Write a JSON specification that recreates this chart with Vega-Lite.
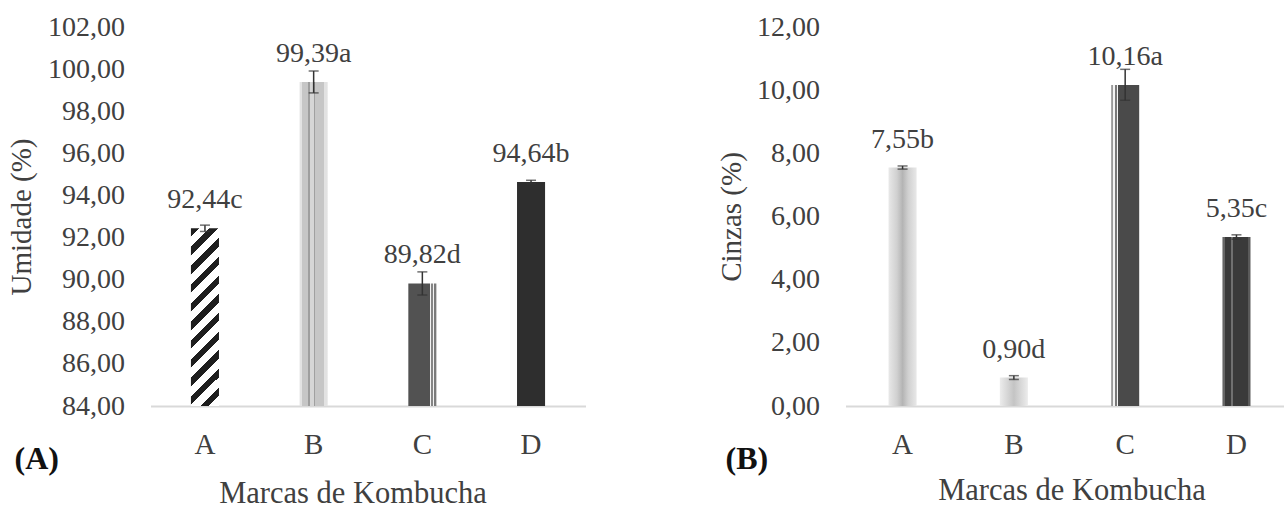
{
  "$schema": "https://vega.github.io/schema/vega-lite/v6.json",
  "background": "white",
  "padding": {"left": 7.5, "top": 13, "right": 0, "bottom": 0},
  "bounds": "flush",
  "spacing": 260,
  "config": {
    "view": {"stroke": null},
    "font": "Liberation Serif",
    "axis": {"labelFont": "Liberation Serif", "titleFont": "Liberation Serif", "grid": false, "ticks": false, "tickSize": 0, "labelColor": "#404040", "titleColor": "#404040", "titleFontWeight": "normal"},
    "title": {"font": "Liberation Serif"}
  },
  "hconcat": [
    {
      "width": 435,
      "height": 379,
      "title": {"text": "(A)", "orient": "bottom", "anchor": "start", "frame": "group", "align": "left", "baseline": "top", "fontSize": 32, "fontWeight": "bold", "color": "#111111", "offset": 0, "dx": -136, "dy": -65},
      "data": {"values": [
        {"marca": "A", "valor": 92.44, "lo": 92.29, "hi": 92.59, "rotulo": "92,44c"},
        {"marca": "B", "valor": 99.39, "lo": 98.87, "hi": 99.91, "rotulo": "99,39a"},
        {"marca": "C", "valor": 89.82, "lo": 89.27, "hi": 90.37, "rotulo": "89,82d"},
        {"marca": "D", "valor": 94.64, "lo": 94.56, "hi": 94.72, "rotulo": "94,64b"}
      ]},
      "encoding": {
        "x": {"field": "marca", "type": "nominal", "sort": null,
          "scale": {"paddingInner": 0.742, "paddingOuter": 0.372, "align": 0.5},
          "axis": {"title": "Marcas de Kombucha", "titleX": 202, "titleY": 87, "titleAlign": "center", "titleBaseline": "middle", "titleFontSize": 30.5, "labelAngle": 0, "labelFontSize": 29, "labelPadding": 38, "labelBaseline": "middle", "domainColor": "#d9d9d9", "domainWidth": 2}}
      },
      "layer": [
        {
          "mark": {"type": "bar"},
          "encoding": {
            "y": {"field": "valor", "type": "quantitative", "title": "Umidade (%)", "scale": {"domain": [84, 102], "zero": false, "nice": false},
              "axis": {"title": "Umidade (%)", "titleX": -129, "titleY": 189.5, "titleAngle": -90, "titleAlign": "center", "titleBaseline": "middle", "titleFontSize": 29, "labelFontSize": 28, "labelPadding": 26, "domain": false, "values": [84, 86, 88, 90, 92, 94, 96, 98, 100, 102], "labelExpr": "replace(format(datum.value, '.2f'), '.', ',')"}},
            "y2": {"datum": 84},
            "fill": {
              "condition": [
                {"test": "datum.marca === 'A'", "value": {"gradient": "linear", "x1": 0, "y1": 0, "x2": 0.178, "y2": 1.1296, "stops": [
                  {"offset": 0, "color": "#1e1e1e"}, {"offset": 0.0409, "color": "#1e1e1e"}, {"offset": 0.0409, "color": "#ffffff"}, {"offset": 0.0909, "color": "#ffffff"},
                  {"offset": 0.0909, "color": "#1e1e1e"}, {"offset": 0.1318, "color": "#1e1e1e"}, {"offset": 0.1318, "color": "#ffffff"}, {"offset": 0.1818, "color": "#ffffff"},
                  {"offset": 0.1818, "color": "#1e1e1e"}, {"offset": 0.2227, "color": "#1e1e1e"}, {"offset": 0.2227, "color": "#ffffff"}, {"offset": 0.2727, "color": "#ffffff"},
                  {"offset": 0.2727, "color": "#1e1e1e"}, {"offset": 0.3136, "color": "#1e1e1e"}, {"offset": 0.3136, "color": "#ffffff"}, {"offset": 0.3636, "color": "#ffffff"},
                  {"offset": 0.3636, "color": "#1e1e1e"}, {"offset": 0.4045, "color": "#1e1e1e"}, {"offset": 0.4045, "color": "#ffffff"}, {"offset": 0.4545, "color": "#ffffff"},
                  {"offset": 0.4545, "color": "#1e1e1e"}, {"offset": 0.4955, "color": "#1e1e1e"}, {"offset": 0.4955, "color": "#ffffff"}, {"offset": 0.5455, "color": "#ffffff"},
                  {"offset": 0.5455, "color": "#1e1e1e"}, {"offset": 0.5864, "color": "#1e1e1e"}, {"offset": 0.5864, "color": "#ffffff"}, {"offset": 0.6364, "color": "#ffffff"},
                  {"offset": 0.6364, "color": "#1e1e1e"}, {"offset": 0.6773, "color": "#1e1e1e"}, {"offset": 0.6773, "color": "#ffffff"}, {"offset": 0.7273, "color": "#ffffff"},
                  {"offset": 0.7273, "color": "#1e1e1e"}, {"offset": 0.7682, "color": "#1e1e1e"}, {"offset": 0.7682, "color": "#ffffff"}, {"offset": 0.8182, "color": "#ffffff"},
                  {"offset": 0.8182, "color": "#1e1e1e"}, {"offset": 0.8591, "color": "#1e1e1e"}, {"offset": 0.8591, "color": "#ffffff"}, {"offset": 0.9091, "color": "#ffffff"},
                  {"offset": 0.9091, "color": "#1e1e1e"}, {"offset": 0.95, "color": "#1e1e1e"}, {"offset": 0.95, "color": "#ffffff"}, {"offset": 1, "color": "#ffffff"}
                ]}},
                {"test": "datum.marca === 'B'", "value": {"gradient": "linear", "x1": 0, "y1": 0, "x2": 1, "y2": 0, "stops": [
                  {"offset": 0, "color": "#e2e2e2"}, {"offset": 0.08, "color": "#e2e2e2"}, {"offset": 0.08, "color": "#c6c6c6"}, {"offset": 0.3, "color": "#c6c6c6"},
                  {"offset": 0.3, "color": "#9e9e9e"}, {"offset": 0.36, "color": "#9e9e9e"}, {"offset": 0.36, "color": "#d6d6d6"}, {"offset": 0.5, "color": "#d6d6d6"},
                  {"offset": 0.5, "color": "#a0a0a0"}, {"offset": 0.56, "color": "#a0a0a0"}, {"offset": 0.56, "color": "#c6c6c6"}, {"offset": 0.86, "color": "#c6c6c6"},
                  {"offset": 0.86, "color": "#e2e2e2"}, {"offset": 1, "color": "#e2e2e2"}
                ]}},
                {"test": "datum.marca === 'C'", "value": {"gradient": "linear", "x1": 0, "y1": 0, "x2": 1, "y2": 0, "stops": [
                  {"offset": 0, "color": "#525252"}, {"offset": 0.76, "color": "#525252"}, {"offset": 0.76, "color": "#f2f2f2"}, {"offset": 0.82, "color": "#f2f2f2"},
                  {"offset": 0.82, "color": "#858585"}, {"offset": 0.88, "color": "#858585"}, {"offset": 0.88, "color": "#f2f2f2"}, {"offset": 0.93, "color": "#f2f2f2"},
                  {"offset": 0.93, "color": "#7a7a7a"}, {"offset": 1, "color": "#7a7a7a"}
                ]}}
              ],
              "value": "#2e2e2e"
            }
          }
        },
        {
          "mark": {"type": "errorbar", "color": "#333333", "thickness": 1.5, "ticks": {"size": 10, "thickness": 1.5}},
          "encoding": {
            "y": {"field": "lo", "type": "quantitative", "title": "Umidade (%)", "scale": {"domain": [84, 102], "zero": false, "nice": false}},
            "y2": {"field": "hi"}
          }
        },
        {
          "mark": {"type": "text", "dy": -28, "baseline": "middle", "align": "center", "fontSize": 28, "color": "#404040", "font": "Liberation Serif"},
          "encoding": {
            "y": {"field": "valor", "type": "quantitative", "title": "Umidade (%)", "scale": {"domain": [84, 102], "zero": false, "nice": false}},
            "text": {"field": "rotulo"}
          }
        }
      ]
    },
    {
      "width": 438,
      "height": 379,
      "title": {"text": "(B)", "orient": "bottom", "anchor": "start", "frame": "group", "align": "left", "baseline": "top", "fontSize": 32, "fontWeight": "bold", "color": "#111111", "offset": 0, "dx": -120, "dy": -62},
      "data": {"values": [
        {"marca": "A", "valor": 7.55, "lo": 7.5, "hi": 7.6, "rotulo": "7,55b"},
        {"marca": "B", "valor": 0.90, "lo": 0.84, "hi": 0.96, "rotulo": "0,90d"},
        {"marca": "C", "valor": 10.16, "lo": 9.68, "hi": 10.66, "rotulo": "10,16a"},
        {"marca": "D", "valor": 5.35, "lo": 5.28, "hi": 5.42, "rotulo": "5,35c"}
      ]},
      "encoding": {
        "x": {"field": "marca", "type": "nominal", "sort": null,
          "scale": {"paddingInner": 0.748, "paddingOuter": 0.3417, "align": 0.566},
          "axis": {"title": "Marcas de Kombucha", "titleX": 226, "titleY": 84, "titleAlign": "center", "titleBaseline": "middle", "titleFontSize": 30.5, "labelAngle": 0, "labelFontSize": 29, "labelPadding": 38, "labelBaseline": "middle", "domainColor": "#d9d9d9", "domainWidth": 2}}
      },
      "layer": [
        {
          "mark": {"type": "bar"},
          "encoding": {
            "y": {"field": "valor", "type": "quantitative", "title": "Cinzas (%)", "scale": {"domain": [0, 12], "nice": false},
              "axis": {"title": "Cinzas (%)", "titleX": -114, "titleY": 189.5, "titleAngle": -90, "titleAlign": "center", "titleBaseline": "middle", "titleFontSize": 29, "labelFontSize": 28, "labelPadding": 26, "domain": false, "values": [0, 2, 4, 6, 8, 10, 12], "labelExpr": "replace(format(datum.value, '.2f'), '.', ',')"}},
            "y2": {"datum": 0},
            "fill": {
              "condition": [
                {"test": "datum.marca === 'A'", "value": {"gradient": "linear", "x1": 0, "y1": 0, "x2": 1, "y2": 0, "stops": [
                  {"offset": 0, "color": "#e8e8e8"}, {"offset": 0.3, "color": "#d0d0d0"}, {"offset": 0.5, "color": "#b4b4b4"}, {"offset": 0.7, "color": "#d0d0d0"}, {"offset": 1, "color": "#e8e8e8"}
                ]}},
                {"test": "datum.marca === 'B'", "value": {"gradient": "linear", "x1": 0, "y1": 0, "x2": 1, "y2": 0, "stops": [
                  {"offset": 0, "color": "#ececec"}, {"offset": 0.5, "color": "#c4c4c4"}, {"offset": 1, "color": "#ececec"}
                ]}},
                {"test": "datum.marca === 'C'", "value": {"gradient": "linear", "x1": 0, "y1": 0, "x2": 1, "y2": 0, "stops": [
                  {"offset": 0, "color": "#9a9a9a"}, {"offset": 0.07, "color": "#9a9a9a"}, {"offset": 0.07, "color": "#f4f4f4"}, {"offset": 0.12, "color": "#f4f4f4"},
                  {"offset": 0.12, "color": "#7a7a7a"}, {"offset": 0.2, "color": "#7a7a7a"}, {"offset": 0.2, "color": "#f4f4f4"}, {"offset": 0.25, "color": "#f4f4f4"},
                  {"offset": 0.25, "color": "#4a4a4a"}, {"offset": 1, "color": "#4a4a4a"}
                ]}}
              ],
              "value": {"gradient": "linear", "x1": 0, "y1": 0, "x2": 1, "y2": 0, "stops": [
                {"offset": 0, "color": "#666666"}, {"offset": 0.1, "color": "#666666"}, {"offset": 0.1, "color": "#3a3a3a"}, {"offset": 0.3, "color": "#3a3a3a"},
                {"offset": 0.3, "color": "#707070"}, {"offset": 0.36, "color": "#707070"}, {"offset": 0.36, "color": "#3a3a3a"}, {"offset": 0.9, "color": "#3a3a3a"},
                {"offset": 0.9, "color": "#5a5a5a"}, {"offset": 1, "color": "#5a5a5a"}
              ]}
            }
          }
        },
        {
          "mark": {"type": "errorbar", "color": "#333333", "thickness": 1.5, "ticks": {"size": 10, "thickness": 1.5}},
          "encoding": {
            "y": {"field": "lo", "type": "quantitative", "title": "Cinzas (%)", "scale": {"domain": [0, 12], "nice": false}},
            "y2": {"field": "hi"}
          }
        },
        {
          "mark": {"type": "text", "dy": -28, "baseline": "middle", "align": "center", "fontSize": 28, "color": "#404040", "font": "Liberation Serif"},
          "encoding": {
            "y": {"field": "valor", "type": "quantitative", "title": "Cinzas (%)", "scale": {"domain": [0, 12], "nice": false}},
            "text": {"field": "rotulo"}
          }
        }
      ]
    }
  ]
}
